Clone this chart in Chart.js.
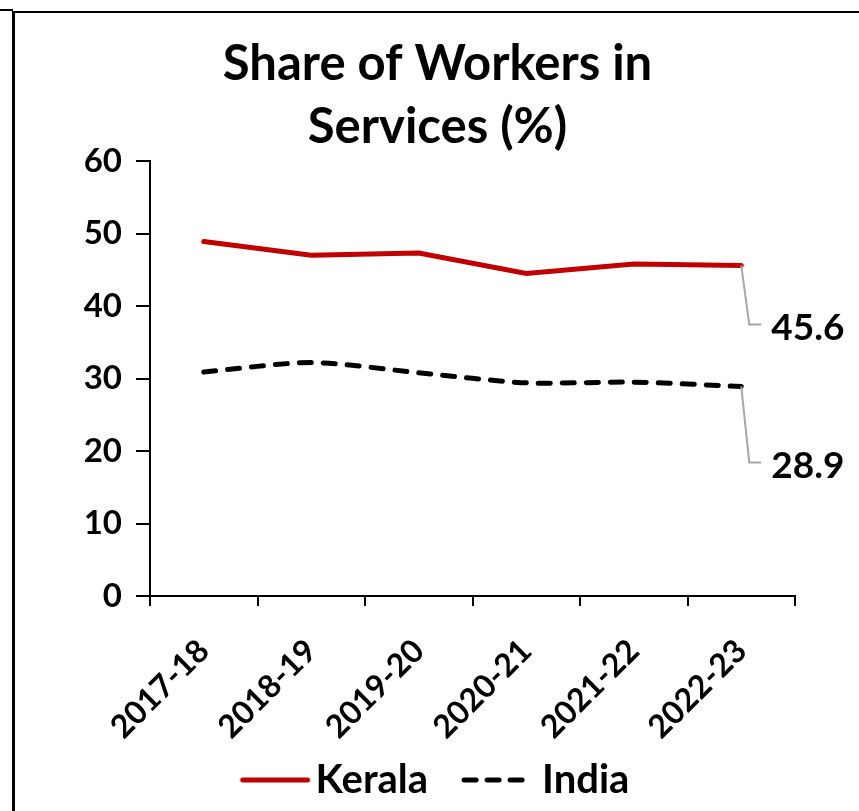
<!DOCTYPE html>
<html>
<head>
<meta charset="utf-8">
<script src="https://cdn.jsdelivr.net/npm/chart.js@4.4.1/dist/chart.umd.min.js"></script>
<style>
  html, body { margin: 0; padding: 0; background: #fff; }
  #wrap { position: relative; width: 859px; height: 811px; overflow: hidden; }
  #frame { position: absolute; left: 12px; top: 11px; right: -10px; bottom: -10px;
           border-left: 3px solid #000; border-top: 2px solid #000; }
  #stub { position: absolute; left: 0; top: 9px; width: 13px; height: 2px; background: #000; }
  canvas { position: absolute; left: 0; top: 0; }
</style>
</head>
<body>
<div id="wrap">
  <div id="frame"></div>
  <div id="stub"></div>
  <canvas id="chart" width="859" height="811"></canvas>
</div>
<script>
// ======================
// 데이터
// ======================
const years = ["2017-18", "2018-19", "2019-20", "2020-21", "2021-22", "2022-23"];
const kerala = [48.9, 47.0, 47.3, 44.5, 45.8, 45.6];
const india = [30.9, 32.2, 30.8, 29.4, 29.5, 28.9];
const yTicks = [0, 10, 20, 30, 40, 50, 60];

const FONT = "Lato, 'Noto Sans', sans-serif";

// ======================
// 범례 기호 (선 샘플 이미지)
// ======================
function legendLine(color, dashed) {
  const c = document.createElement("canvas");
  c.width = 90;
  c.height = 16;
  const g = c.getContext("2d");
  g.strokeStyle = color;
  g.lineWidth = 5;
  g.lineCap = "round";
  g.beginPath();
  if (dashed) {
    // 짧은 대시 3개
    [[12, 24], [35, 47], [58, 70]].forEach(([a, b]) => { g.moveTo(a, 8); g.lineTo(b, 8); });
  } else {
    g.moveTo(17, 8);
    g.lineTo(82, 8);
  }
  g.stroke();
  return c;
}
const legendIcons = [legendLine("#c00000", false), legendLine("#000", true)];

// 마지막 점 라벨 (지시선 + 값)
const endLabels = {
  id: "endLabels",
  afterLayout(chart) {
    // 회전된 x축 라벨이 범례 영역까지 내려가도록 클리핑 해제
    chart.scales.x._computeLabelArea = () => undefined;
  },
  afterDatasetsDraw(chart) {
    const ctx = chart.ctx;
    const drops = [59, 76];
    chart.data.datasets.forEach((ds, i) => {
      const meta = chart.getDatasetMeta(i);
      const last = meta.data[meta.data.length - 1];
      const x = last.x, y = last.y;
      const dy = drops[i];
      ctx.save();
      ctx.strokeStyle = "#a6a6a6";
      ctx.lineWidth = 2;
      ctx.beginPath();
      ctx.moveTo(x, y);
      ctx.lineTo(x + 8, y + dy);
      ctx.lineTo(x + 20, y + dy);
      ctx.stroke();
      ctx.fillStyle = "#000";
      ctx.font = "bold 37px " + FONT;
      ctx.textAlign = "left";
      ctx.textBaseline = "middle";
      ctx.fillText(ds.data[ds.data.length - 1].toFixed(1), x + 30, y + dy + 4);
      ctx.restore();
    });
  }
};

new Chart(document.getElementById("chart"), {
  type: "line",
  data: {
    labels: years,
    datasets: [
      {
        label: "Kerala",
        data: kerala,
        borderColor: "#c00000",
        backgroundColor: "#c00000",
        borderWidth: 5,
        pointRadius: 0,
        tension: 0,
        borderCapStyle: "round"
      },
      {
        label: "India",
        data: india,
        borderColor: "#000",
        backgroundColor: "#000",
        borderWidth: 5,
        borderDash: [12, 12],
        borderCapStyle: "round",
        pointRadius: 0,
        tension: 0.25
      }
    ]
  },
  options: {
    responsive: false,
    animation: false,
    layout: { padding: { left: 80, right: 64, top: 0, bottom: 1 } },
    plugins: {
      title: {
        display: true,
        text: ["Share of Workers in", "Services (%)"],
        color: "#000",
        font: { family: FONT, size: 49, weight: "bold", lineHeight: 63 / 49 },
        padding: { top: 33, bottom: 2 }
      },
      legend: {
        position: "bottom",
        labels: {
          color: "#000",
          font: { family: FONT, size: 40, weight: "bold" },
          usePointStyle: true,
          pointStyleWidth: 50,
          boxHeight: 16,
          padding: 44,
          generateLabels(chart) {
            const items = Chart.defaults.plugins.legend.labels.generateLabels(chart);
            items.forEach((it, i) => { it.pointStyle = legendIcons[i]; });
            return items;
          }
        }
      },
      tooltip: { enabled: false }
    },
    scales: {
      x: {
        offset: true,
        afterFit(scale) { scale.height = 120; },
        grid: { display: true, offset: true, drawOnChartArea: false, color: "#000", lineWidth: 2, tickLength: 10 },
        border: { display: true, color: "#000", width: 2 },
        ticks: {
          color: "#000",
          font: { family: FONT, size: 32, weight: "bold" },
          maxRotation: 45,
          minRotation: 45,
          padding: 26
        }
      },
      y: {
        min: 0,
        max: 60,
        afterFit(scale) { scale.width = 70; },
        afterBuildTicks(scale) { scale.ticks = yTicks.map(v => ({ value: v })); },
        grid: { display: true, drawOnChartArea: false, color: "#000", lineWidth: 2, tickLength: 14 },
        border: { display: true, color: "#000", width: 2 },
        ticks: {
          color: "#000",
          font: { family: FONT, size: 33, weight: "bold" },
          padding: 14
        }
      }
    }
  },
  plugins: [endLabels]
});
</script>
</body>
</html>
